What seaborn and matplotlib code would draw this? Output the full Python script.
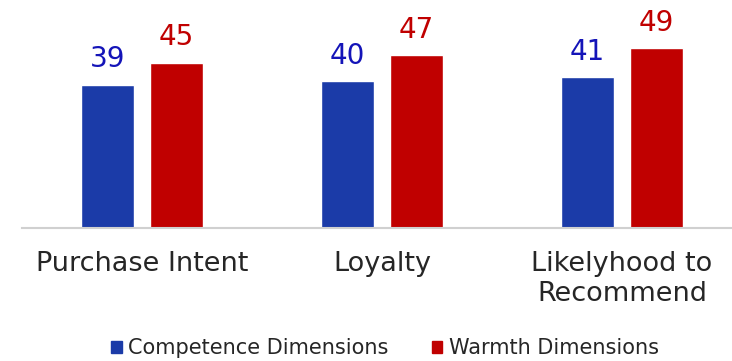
import matplotlib
matplotlib.use("Agg")
import matplotlib.pyplot as plt
import seaborn as sns
import pandas as pd

categories = ["Purchase Intent", "Loyalty", "Likelyhood to\nRecommend"]
series_names = ["Competence Dimensions", "Warmth Dimensions"]
competence = [39, 40, 41]
warmth = [45, 47, 49]

bar_colors = ["#1b3ba8", "#c00000"]
label_colors = ["#1414b8", "#c00000"]

df = pd.DataFrame({
    "category": categories * 2,
    "series": [series_names[0]] * 3 + [series_names[1]] * 3,
    "value": competence + warmth,
})

sns.set_style("white")
plt.rcParams["font.family"] = ["DejaVu Sans"]

fig = plt.figure(figsize=(7.32, 3.61), dpi=100)
ax = fig.add_axes([22 / 732, (361 - 227.5) / 361, 720 / 732, 220 / 361])

sns.barplot(data=df, x="category", y="value", hue="series",
            palette=bar_colors, width=0.575, gap=0.22, ax=ax,
            saturation=1, legend=False)

ax.set_xlim(-0.5, 2.5)
ax.set_ylim(0, 60)

for cont, col in zip(ax.containers, label_colors):
    ax.bar_label(cont, fmt="%d", padding=8, color=col, fontsize=20)

for side in ["top", "right", "left"]:
    ax.spines[side].set_visible(False)
ax.spines["bottom"].set_color("#d0d0d0")
ax.spines["bottom"].set_linewidth(1.5)
ax.set_yticks([])
ax.set_xlabel("")
ax.set_ylabel("")
ax.tick_params(axis="x", length=0, pad=17, labelsize=19.5, labelcolor="#262626")

handles = [plt.Rectangle((0, 0), 1, 1, color=c) for c in bar_colors]
fig.legend(handles, series_names, loc="center", bbox_to_anchor=(385 / 732, 1 - 348 / 361),
           ncol=2, frameon=False, fontsize=15, handlelength=0.5, handleheight=0.5,
           handletextpad=0.3, columnspacing=2.1, labelcolor="#262626")

fig.savefig("out.png", dpi=100)
